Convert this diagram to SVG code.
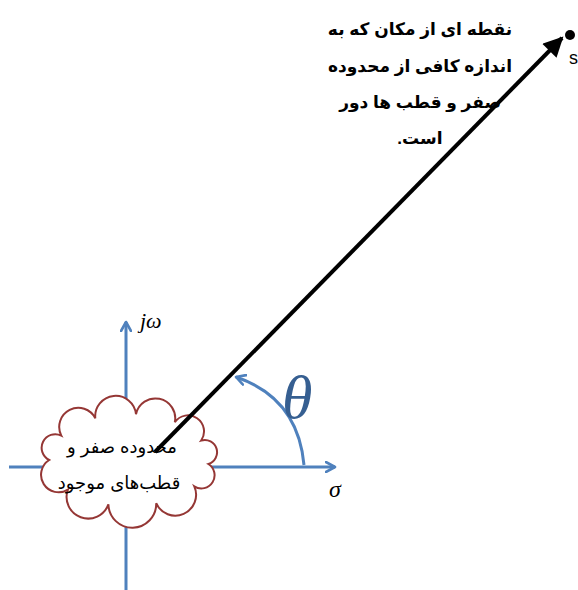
<svg xmlns="http://www.w3.org/2000/svg" width="578" height="590" viewBox="0 0 578 590">
<defs>
<style>
.axis{stroke:#4f81bd;stroke-width:3;fill:none}
.fa{font-family:"Liberation Sans","DejaVu Sans",sans-serif}
.math{font-family:"Liberation Serif","DejaVu Serif",serif;font-style:italic}
</style>
<marker id="open" viewBox="0 0 12 12" refX="10" refY="6" markerWidth="12" markerHeight="12" markerUnits="userSpaceOnUse" orient="auto">
<path d="M1,1 L10,6 L1,11" fill="none" stroke="#4f81bd" stroke-width="2.6" stroke-linecap="round" stroke-linejoin="round"/>
</marker>
<marker id="tri" viewBox="0 0 10 10" refX="9" refY="5" markerWidth="24" markerHeight="20" markerUnits="userSpaceOnUse" orient="auto">
<path d="M0,0 L10,5 L0,10 Z" fill="#000"/>
</marker>
</defs>
<g id="connectors">
<line class="axis" x1="126" y1="590" x2="126" y2="322" marker-end="url(#open)"/>
<line class="axis" x1="9" y1="467" x2="335" y2="467" marker-end="url(#open)"/>
<path class="axis" d="M304,465 Q298,398 236,377" marker-end="url(#open)"/>
</g>
<g id="cloud">
<path d="M49.2,460 A1,1 0 0 1 61.3,435.6 A1,1 0 0 1 95.3,418.3 A1,1 0 0 1 136,414.2 A1,1 0 0 1 174.8,422.3 A1,1 0 0 1 201.2,440.5 A1,1 0 0 1 208.4,464 A1,1 0 0 1 194.3,486.4 A1,1 0 0 1 156.2,503.2 A1,1 0 0 1 108.4,504.4 A1,1 0 0 1 67.9,489.6 A1,1 0 0 1 49.2,460 Z" fill="#fff" stroke="#953735" stroke-width="2"/>
<text class="fa" x="122" y="453" font-size="18" text-anchor="middle" direction="rtl">محدوده صفر و</text>
<text class="fa" x="119" y="489" font-size="18" text-anchor="middle" direction="rtl">قطب‌های موجود</text>
</g>
<g id="vector">
<line x1="155" y1="452" x2="562" y2="38" stroke="#000" stroke-width="4" marker-end="url(#tri)"/>
<circle cx="570" cy="35" r="5" fill="#000"/>
<text class="fa" x="569" y="64" font-size="18">s</text>
</g>
<g id="labels">
<text class="math" x="140" y="328" font-size="22">jω</text>
<text class="math" x="329" y="497" font-size="24">σ</text>
<text class="math" x="282" y="418" font-size="62" fill="#365f91">θ</text>
</g>
<g id="note" class="fa" font-weight="bold" font-size="17" text-anchor="middle">
<text x="420" y="35" direction="rtl">نقطه ای از مکان که به</text>
<text x="420" y="72" direction="rtl">اندازه کافی از محدوده</text>
<text x="420" y="108" direction="rtl">صفر و قطب ها دور</text>
<text x="420" y="144" direction="rtl">است.</text>
</g>
</svg>
